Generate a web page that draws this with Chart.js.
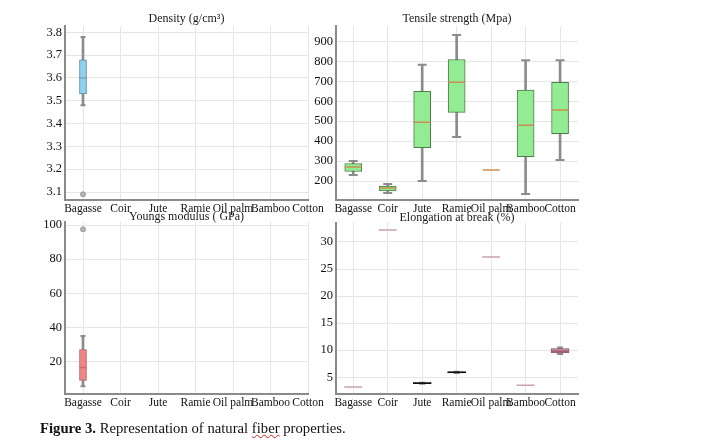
<!DOCTYPE html>
<html>
<head>
<meta charset="utf-8">
<script src="https://cdn.jsdelivr.net/npm/chart.js@4"></script>
<style>
  body { margin: 0; background: #fff; }
  #wrap { position: relative; width: 701px; height: 443px; }
  canvas { position: absolute; }
  #caption {
    position: absolute; left: 40px; top: 420px;
    font-family: "Liberation Serif", serif; font-size: 14.7px; color: #111; white-space: nowrap;
  }
  #caption .sp { text-decoration: underline wavy #d02020; text-decoration-thickness: 1px; }
</style>
</head>
<body>
<div id="wrap">
  <canvas id="c1" width="310" height="214" style="left:20px;top:8px"></canvas>
  <canvas id="c2" width="292" height="214" style="left:305px;top:8px"></canvas>
  <canvas id="c3" width="310" height="204" style="left:20px;top:212px"></canvas>
  <canvas id="c4" width="292" height="204" style="left:305px;top:212px"></canvas>
  <div id="caption"><b>Figure 3.</b> Representation of natural <span class="sp">fiber</span> properties.</div>
</div>
<script>
// fibers on the x axis
var fibers = ["Bagasse", "Coir", "Jute", "Ramie", "Oil palm", "Bamboo", "Cotton"];

// density (g/cm3) - only bagasse has data
var densMin = [3.48, null, null, null, null, null, null];
var densQ1  = [3.53, null, null, null, null, null, null];
var densMed = [3.60, null, null, null, null, null, null];
var densQ3  = [3.68, null, null, null, null, null, null];
var densMax = [3.78, null, null, null, null, null, null];
var densOut = [[3.09], [], [], [], [], [], []];

// tensile strength (MPa)
var tensMin = [230, 140, 200, 421, 255, 135, 306];
var tensQ1  = [248, 150, 367, 544, 255, 322, 437];
var tensMed = [270, 165, 495, 695, 255, 479, 556];
var tensQ3  = [288, 175, 650, 809, 255, 656, 695];
var tensMax = [300, 185, 783, 932, 255, 805, 805];
var tensOut = [[], [], [], [], [], [], []];

// youngs modulus (GPa)
var youngMin = [5.5, null, null, null, null, null, null];
var youngQ1  = [9, null, null, null, null, null, null];
var youngMed = [16.5, null, null, null, null, null, null];
var youngQ3  = [27, null, null, null, null, null, null];
var youngMax = [35, null, null, null, null, null, null];
var youngOut = [[97.5], [], [], [], [], [], []];

// elongation at break (%)
var elongMin = [3.2, 32.2, 3.8, 5.8, 27.2, 3.5, 9.3];
var elongQ1  = [3.2, 32.2, 3.8, 5.8, 27.2, 3.5, 9.5];
var elongMed = [3.2, 32.2, 3.9, 5.9, 27.2, 3.5, 9.8];
var elongQ3  = [3.2, 32.2, 4.0, 6.0, 27.2, 3.5, 10.3];
var elongMax = [3.2, 32.2, 4.0, 6.0, 27.2, 3.5, 10.5];
var elongOut = [[], [], [], [], [], [], []];

var serif = "'Liberation Serif', 'Times New Roman', serif";
var whiskerColor = "#8c8c8c";

function pick(arr, i) { return Array.isArray(arr) ? arr[i] : arr; }

function boxPlot(id, p) {
    var whisk = [], caps = [], boxes = [], boxFill = [], boxLine = [], meds = [], medCol = [], outs = [];
    for (var i = 0; i < fibers.length; i++) {
        if (p.med[i] == null) continue;
        if (p.max[i] > p.min[i]) {
            whisk.push({x: i, y: [p.min[i], p.max[i]]});
            caps.push({x: i, y: p.min[i]}, {x: i, y: p.max[i]});
        }
        if (p.q3[i] > p.q1[i]) {
            boxes.push({x: i, y: [p.q1[i], p.q3[i]]});
            boxFill.push(pick(p.fill, i));
            boxLine.push(pick(p.border, i));
        }
        meds.push({x: i, y: p.med[i]});
        medCol.push(pick(p.median, i));
        p.out[i].forEach(function (v) { outs.push({x: i, y: v}); });
    }

    new Chart(document.getElementById(id), {
        type: 'bar',
        data: {
            datasets: [
                { type: 'bar', data: whisk, grouped: false, barThickness: 2, backgroundColor: whiskerColor, borderWidth: 0, order: 5 },
                { type: 'line', data: caps, showLine: false, pointStyle: 'line', pointRadius: p.capR, pointBorderWidth: 2, pointBorderColor: whiskerColor, order: 4 },
                { type: 'bar', data: boxes, grouped: false, barThickness: p.boxW, backgroundColor: boxFill, borderColor: boxLine, borderWidth: 1, borderSkipped: false, order: 3 },
                { type: 'line', data: meds, showLine: false, pointStyle: 'line', pointRadius: p.boxW / 2, pointBorderWidth: 1.5, pointBorderColor: medCol, order: 2 },
                { type: 'line', data: outs, showLine: false, pointStyle: 'circle', pointRadius: 2.5, pointBackgroundColor: '#b4b4b4', pointBorderColor: '#999', pointBorderWidth: 1, order: 1 }
            ]
        },
        options: {
            responsive: false,
            animation: false,
            layout: { padding: { left: 0, right: p.padRight, top: 0, bottom: 0 } },
            plugins: {
                legend: { display: false },
                tooltip: { enabled: false },
                title: {
                    display: true, text: p.title, fullSize: false, color: '#1a1a1a',
                    padding: { top: p.titleTop, bottom: 0 },
                    font: { family: serif, size: 12, weight: 'normal', lineHeight: p.titleLH }
                }
            },
            scales: {
                x: {
                    type: 'linear', min: p.xMin, max: p.xMax, offset: false,
                    grid: { offset: false, color: '#e6e6e6', drawTicks: false },
                    border: { color: '#8a8a8a', width: 2 },
                    ticks: {
                        stepSize: 1, includeBounds: false, autoSkip: false, maxRotation: 0, padding: 2,
                        color: '#111', font: { family: serif, size: 11.5 },
                        callback: function (v) { return fibers[Math.round(v)] || ''; }
                    },
                    afterFit: function (s) { s.height = 22; s.paddingLeft = 0; s.paddingRight = 0; }
                },
                y: {
                    type: 'linear', min: p.yMin, max: p.yMax,
                    grid: { color: '#e6e6e6', drawTicks: false },
                    border: { color: '#8a8a8a', width: 2 },
                    ticks: {
                        stepSize: p.yStep, includeBounds: false, padding: 3, color: '#111', font: { family: serif, size: 12.5 },
                        callback: function (v) { return String(Number(v.toFixed(2))); }
                    },
                    afterFit: function (s) { s.width = p.yW; s.paddingTop = 0; s.paddingBottom = 0; }
                }
            }
        }
    });
}

boxPlot('c1', {
    title: 'Density (g/cm\u00b3)', titleTop: 4, titleLH: 1.2,
    min: densMin, q1: densQ1, med: densMed, q3: densQ3, max: densMax, out: densOut,
    yMin: 3.065, yMax: 3.826, yStep: 0.1, xMin: -0.48, xMax: 6, yW: 45, padRight: 22,
    boxW: 7, capR: 2.5, fill: '#8fd2ef', border: '#5f8499', median: '#7aa4bd'
});

boxPlot('c2', {
    title: 'Tensile strength (Mpa)', titleTop: 4, titleLH: 1.2,
    min: tensMin, q1: tensQ1, med: tensMed, q3: tensQ3, max: tensMax, out: tensOut,
    yMin: 105, yMax: 975, yStep: 100, xMin: -0.5, xMax: 6.52, yW: 31, padRight: 19,
    boxW: 17, capR: 4.5, fill: '#93eb93', border: '#4a7f4a', median: '#c8904e'
});

boxPlot('c3', {
    title: 'Youngs modulus ( GPa)', titleTop: 0, titleLH: 0.8,
    min: youngMin, q1: youngQ1, med: youngMed, q3: youngQ3, max: youngMax, out: youngOut,
    yMin: 1, yMax: 102, yStep: 20, xMin: -0.48, xMax: 6, yW: 45, padRight: 22,
    boxW: 7, capR: 2.5, fill: '#f08585', border: '#b25e5e', median: '#d86c6c'
});

boxPlot('c4', {
    title: 'Elongation at break (%)', titleTop: 0, titleLH: 0.8,
    min: elongMin, q1: elongQ1, med: elongMed, q3: elongQ3, max: elongMax, out: elongOut,
    yMin: 1.9, yMax: 33.6, yStep: 5, xMin: -0.5, xMax: 6.52, yW: 31, padRight: 19,
    boxW: 18, capR: 3,
    fill: ['#d8a0b0', '#d8a0b0', '#1a1a1a', '#1a1a1a', '#d8a0b0', '#d8a0b0', '#d98fa8'],
    border: ['#8a5060', '#8a5060', '#111', '#111', '#8a5060', '#8a5060', '#8a5060'],
    median: ['#c9a2a8', '#c9a2a8', '#111', '#111', '#c9a2a8', '#c9a2a8', '#9a6070']
});
</script>
</body>
</html>
